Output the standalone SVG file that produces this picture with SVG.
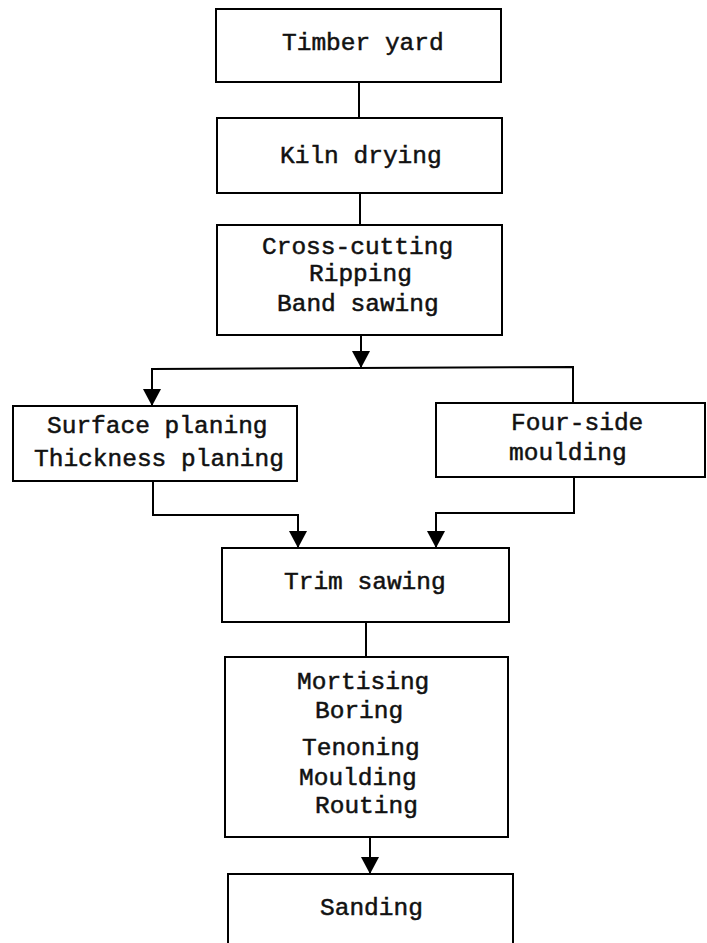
<svg xmlns="http://www.w3.org/2000/svg" width="707" height="943" viewBox="0 0 707 943">
  <style>
    .box { fill: #fff; stroke: #000; stroke-width: 2; }
    .lbl { font-family: "Liberation Mono", "Courier New", monospace; font-size: 24.5px; fill: #111; stroke: #111; stroke-width: 0.5; }
    .wire { fill: none; stroke: #000; stroke-width: 2; }
  </style>
  <defs>
    <marker id="arrow" markerUnits="userSpaceOnUse" markerWidth="18" markerHeight="18" refX="17" refY="9" orient="auto" viewBox="0 0 18 18">
      <path d="M0,0 L17,9 L0,18 Z" fill="#000"/>
    </marker>
  </defs>
  <rect width="707" height="943" fill="#fff"/>

  <!-- connectors -->
  <g id="connectors">
    <line class="wire" x1="359" y1="82" x2="359" y2="118"/>
    <line class="wire" x1="360" y1="193" x2="360" y2="225"/>
    <line class="wire" x1="361" y1="335" x2="361" y2="368" marker-end="url(#arrow)"/>
    <polyline class="wire" points="152,406 152,369 573,367 573,403" />
    <line class="wire" x1="152" y1="369" x2="152" y2="406" marker-end="url(#arrow)"/>
    <polyline class="wire" points="153,481 153,515 298,515 298,548" marker-end="url(#arrow)"/>
    <polyline class="wire" points="574,477 574,513 436,513 436,548" marker-end="url(#arrow)"/>
    <line class="wire" x1="366" y1="622" x2="366" y2="657"/>
    <line class="wire" x1="370" y1="837" x2="370" y2="874" marker-end="url(#arrow)"/>
  </g>

  <g id="timber-yard">
    <rect class="box" x="216" y="9" width="285" height="73"/>
    <text class="lbl" x="282" y="50">Timber yard</text>
  </g>

  <g id="kiln-drying">
    <rect class="box" x="217" y="118" width="285" height="75"/>
    <text class="lbl" x="280" y="163">Kiln drying</text>
  </g>

  <g id="cutting">
    <rect class="box" x="217" y="225" width="285" height="110"/>
    <text class="lbl" x="262" y="254">Cross-cutting</text>
    <text class="lbl" x="309" y="281">Ripping</text>
    <text class="lbl" x="277" y="311">Band sawing</text>
  </g>

  <g id="planing">
    <rect class="box" x="13" y="406" width="284" height="75"/>
    <text class="lbl" x="47" y="433">Surface planing</text>
    <text class="lbl" x="34" y="466">Thickness planing</text>
  </g>

  <g id="four-side">
    <rect class="box" x="436" y="403" width="269" height="74"/>
    <text class="lbl" x="511" y="430">Four-side</text>
    <text class="lbl" x="509" y="460">moulding</text>
  </g>

  <g id="trim-sawing">
    <rect class="box" x="222" y="548" width="287" height="74"/>
    <text class="lbl" x="284" y="589">Trim sawing</text>
  </g>

  <g id="joinery">
    <rect class="box" x="225" y="657" width="283" height="180"/>
    <text class="lbl" x="297" y="689">Mortising</text>
    <text class="lbl" x="315" y="718">Boring</text>
    <text class="lbl" x="302" y="755">Tenoning</text>
    <text class="lbl" x="299" y="785">Moulding</text>
    <text class="lbl" x="315" y="813">Routing</text>
  </g>

  <g id="sanding">
    <rect class="box" x="228" y="874" width="285" height="90"/>
    <text class="lbl" x="320" y="915">Sanding</text>
  </g>
</svg>
